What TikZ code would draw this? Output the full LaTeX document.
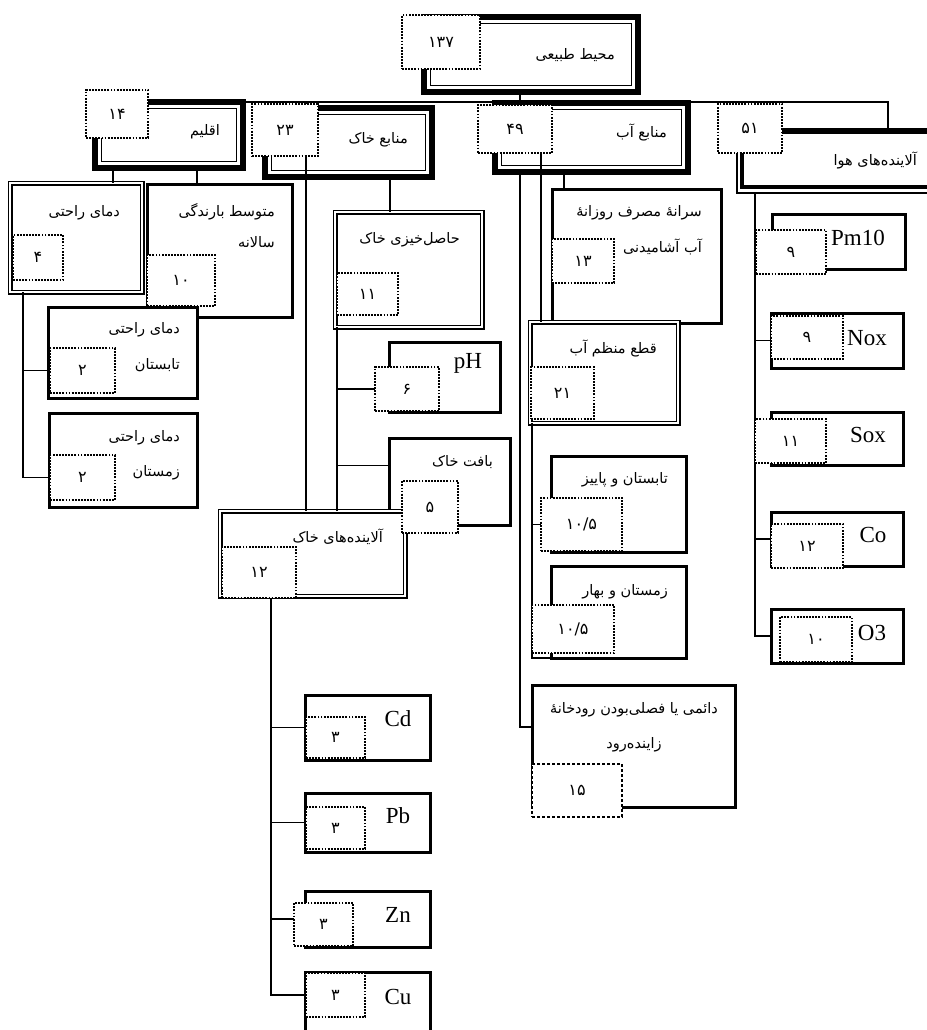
\documentclass[tikz,border=0pt]{standalone}
\usepackage{fontspec}
\setmainfont{Liberation Serif}
\newfontfamily\fa[Script=Arabic]{DejaVu Sans}
\TeXXeTstate=1
\newcommand{\fat}[1]{{\fa\beginR #1\endR}}

\pgfdeclarelayer{frames}
\pgfdeclarelayer{links}
\pgfsetlayers{frames,links,main}

% box from (x1,y1) to (x2,y2), y counted downwards
\newcommand{\mkbox}[6][leafbox]{%
	\node[#1, minimum width={(#5-#3)*1pt}, minimum height={(#6-#4)*1pt}] (#2) at ({(#3+#5)/2},{(#4+#6)/2}) {};}
\newcommand{\mktop}[5]{%
	\mkbox[topbox]{#1}{#2}{#3}{#4}{#5}
	\draw[line width=1.3pt] ([shift={(6.5,6.5)}]#1.north west) rectangle ([shift={(-6.5,-6.5)}]#1.south east);}
\newcommand{\mknum}[7][numbox]{%
	\node[#1, minimum width={(#5-#3)*1pt}, minimum height={(#6-#4)*1pt}] (#2) at ({(#3+#5)/2},{(#4+#6)/2}) {#7};}

\begin{document}
\begin{tikzpicture}[x=1pt, y=-1pt, line join=miter,
		leafbox/.style={draw, line width=3pt, fill=white, inner sep=0pt, outer sep=0pt},
		dblbox/.style={draw, line width=1.5pt, double, double distance=2pt, fill=white, inner sep=0pt, outer sep=0pt},
		topbox/.style={draw, line width=5.5pt, fill=white, inner sep=0pt, outer sep=0pt},
		thinbox/.style={draw, line width=1.3pt, fill=white, inner sep=0pt, outer sep=0pt},
		numbox/.style={draw, line width=1.8pt, dash pattern=on 1.8pt off 1.3pt, fill=white, inner sep=0pt, outer sep=0pt, font=\fa\fontsize{16}{18}\selectfont},
		numthick/.style={numbox, line width=2.6pt, dash pattern=on 3pt off 2pt},
		lab/.style={inner sep=0pt, font=\fontsize{14.5}{16}\selectfont},
		latin/.style={inner sep=0pt, font=\fontsize{23}{25}\selectfont},
		link/.style={line width=1.3pt}]
	\useasboundingbox (0,0) rectangle (926,1030);

	\begin{pgfonlayer}{frames}
		% root and first level
		\mktop{root}{424}{17}{638}{92}
		\mktop{aqlim}{95}{102}{243}{168}
		\mktop{soil}{265}{108}{432}{177}
		\mktop{water}{495}{103}{688}{172}
		\mkbox[thinbox]{air}{737}{129}{950}{193}
		\draw[line width=4.5pt] ([shift={(5,2.5)}]air.north west) rectangle ([shift={(5,-6)}]air.south east);

		% climate
		\mkbox[dblbox]{dama}{10}{183}{142}{292}
		\mkbox{rain}{147}{184}{292}{317}
		\mkbox{summer}{48}{307}{197}{398}
		\mkbox{winter}{49}{413}{197}{507}

		% soil
		\mkbox[dblbox]{fert}{335}{212}{482}{327}
		\mkbox{ph}{389}{342}{500}{412}
		\mkbox{texture}{389}{438}{510}{525}
		\mkbox[dblbox]{soilpol}{220}{511}{405}{596}
		\foreach \nm/\ya/\yb in {cd/695/760, pb/793/852, zn/891/947, cu/972/1045}
			\mkbox{\nm}{305}{\ya}{430}{\yb};

		% water
		\mkbox{percap}{552}{189}{721}{323}
		\mkbox[dblbox]{regular}{530}{322}{678}{423}
		\mkbox{sumfall}{551}{456}{686}{552}
		\mkbox{winspr}{551}{566}{686}{658}
		\mkbox{perm}{532}{685}{735}{807}

		% air
		\mkbox{pm}{772}{214}{905}{269}
		\foreach \nm/\ya/\yb in {nox/313/368, sox/412/465, co/512/566, othree/609/663}
			\mkbox{\nm}{771}{\ya}{903}{\yb};
	\end{pgfonlayer}

	% numbers
	\mknum{n137}{402}{15}{480}{69}{۱۳۷}
	\mknum{n14}{86}{90}{148}{138}{۱۴}
	\mknum{n23}{252}{104}{318}{156}{۲۳}
	\mknum{n49}{478}{105}{552}{153}{۴۹}
	\mknum{n51}{718}{104}{782}{153}{۵۱}
	\mknum{n4}{13}{235}{63}{280}{۴}
	\mknum{n10}{147}{255}{215}{306}{۱۰}
	\mknum{n2a}{50}{348}{115}{393}{۲}
	\mknum{n2b}{50}{455}{115}{500}{۲}
	\mknum{n11}{337}{273}{398}{315}{۱۱}
	\mknum{n6}{375}{367}{439}{411}{۶}
	\mknum{n5}{402}{481}{458}{533}{۵}
	\mknum{n12}{222}{547}{296}{598}{۱۲}
	\mknum{n3a}{306}{717}{365}{758}{۳}
	\mknum{n3b}{306}{807}{365}{849}{۳}
	\mknum{n3c}{294}{903}{353}{946}{۳}
	\mknum{n3d}{306}{973}{365}{1017}{۳}
	\mknum{n13}{552}{239}{614}{283}{۱۳}
	\mknum{n21}{531}{367}{594}{419}{۲۱}
	\mknum{n105a}{541}{498}{622}{551}{۱۰/۵}
	\mknum{n105b}{532}{605}{614}{653}{۱۰/۵}
	\mknum[numthick]{n15}{532}{764}{622}{817}{۱۵}
	\mknum{n9a}{756}{230}{826}{274}{۹}
	\mknum{n9b}{771}{316}{843}{359}{۹}
	\mknum{n11b}{755}{419}{826}{463}{۱۱}
	\mknum{n12b}{771}{524}{843}{568}{۱۲}
	\mknum{n10b}{780}{617}{852}{662}{۱۰}

	% labels
	\node[lab, anchor=east] (t-root) at (615,55) {\fat{محیط طبیعی}};
	\node[lab, anchor=east] (t-aqlim) at (220,132) {\fat{اقلیم}};
	\node[lab, anchor=east] (t-soil) at (408,140) {\fat{منابع خاک}};
	\node[lab, anchor=east] (t-water) at (667,132) {\fat{منابع آب}};
	\node[lab, anchor=east] (t-air) at (917,160) {\fat{آلاینده^^^^200cهای هوا}};
	\node[lab, anchor=east] (t-dama) at (120,213) {\fat{دمای راحتی}};
	\node[lab, anchor=east] (t-rain1) at (275,212) {\fat{متوسط بارندگی}};
	\node[lab, anchor=east] (t-rain2) at (275,242) {\fat{سالانه}};
	\node[lab, anchor=east] (t-sum1) at (180,330) {\fat{دمای راحتی}};
	\node[lab, anchor=east] (t-sum2) at (180,365) {\fat{تابستان}};
	\node[lab, anchor=east] (t-win1) at (180,438) {\fat{دمای راحتی}};
	\node[lab, anchor=east] (t-win2) at (180,473) {\fat{زمستان}};
	\node[lab, anchor=east] (t-fert) at (460,240) {\fat{حاصل^^^^200cخیزی خاک}};
	\node[lab, anchor=east] (t-tex) at (493,462) {\fat{بافت خاک}};
	\node[lab, anchor=east] (t-pol) at (383,537) {\fat{آلاینده^^^^200cهای خاک}};
	\node[lab, anchor=east] (t-cap1) at (702,213) {\fat{سرانه^^^^0654 مصرف روزانه^^^^0654}};
	\node[lab, anchor=east] (t-cap2) at (702,247) {\fat{آب آشامیدنی}};
	\node[lab, anchor=east] (t-reg) at (657,348) {\fat{قطع منظم آب}};
	\node[lab, anchor=east] (t-sf) at (668,480) {\fat{تابستان و پاییز}};
	\node[lab, anchor=east] (t-ws) at (668,592) {\fat{زمستان و بهار}};
	\node[lab] (t-perm1) at (634,710) {\fat{دائمی یا فصلی^^^^200cبودن رودخانه^^^^0654}};
	\node[lab] (t-perm2) at (634,745) {\fat{زاینده^^^^200cرود}};
	\node[latin] (t-ph) at (468,363) {pH};
	\node[latin] (t-pm) at (858,238) {Pm10};
	\node[latin] (t-nox) at (867,338) {Nox};
	\node[latin] (t-sox) at (868,435) {Sox};
	\node[latin] (t-co) at (873,535) {Co};
	\node[latin] (t-o3) at (872,633) {O3};
	\node[latin] (t-cd) at (398,719) {Cd};
	\node[latin] (t-pb) at (398,816) {Pb};
	\node[latin] (t-zn) at (398,915) {Zn};
	\node[latin] (t-cu) at (398,997) {Cu};

	\begin{pgfonlayer}{links}
		% first level
		\draw[link] (root.south -| 520,0) -- (water.north -| 520,0);
		\draw[link] (aqlim.north east) -| (air.north -| 888,0);
		\draw[link] (aqlim.north -| 307,0) -- (n23.north -| 307,0);

		% climate
		\draw[link] (aqlim.south -| 113,0) -- (dama.north -| 113,0);
		\draw[link] (aqlim.south -| 197,0) -- (rain.north -| 197,0);
		\draw[link] (dama.south -| 23,0) |- (n2b.west);
		\draw[link] (n2a.west) -- (n2a.west -| 23,0);

		% soil
		\draw[link] (soil.south -| 390,0) -- (fert.north -| 390,0);
		\draw[link] (n23.south -| 306,0) -- (soilpol.north -| 306,0);
		\draw[link] (fert.south -| 337,0) -- (soilpol.north -| 337,0);
		\draw[link] (n6.west) -- (n6.west -| 337,0);
		\draw[link] ([yshift=16pt]texture.west) -- ([yshift=16pt]texture.west -| 337,0);
		\draw[link] (n12.south -| 271,0) |- (n3d.west);
		\foreach \nm in {cd, pb, zn}
			\draw[link] (\nm.west) -- (\nm.west -| 271,0);

		% water
		\draw[link] (water.south -| 564,0) -- (percap.north -| 564,0);
		\draw[link] (n49.south -| 541,0) -- (regular.north -| 541,0);
		\draw[link] (water.south -| 520,0) |- ([yshift=19pt]perm.west);
		\draw[link] (regular.south -| 532,0) |- (winspr.south west);
		\draw[link] (n105a.west) -- (n105a.west -| 532,0);

		% air
		\draw[link] (air.south -| 755,0) |- (othree.west);
		\foreach \nm in {nox, sox, co}
			\draw[link] (\nm.west) -- (\nm.west -| 755,0);
	\end{pgfonlayer}
\end{tikzpicture}
\end{document}
